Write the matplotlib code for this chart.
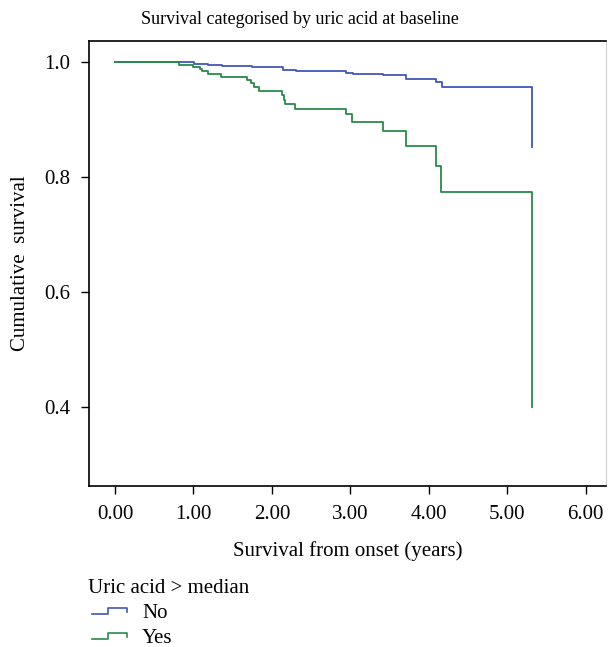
import matplotlib
matplotlib.use('Agg')
import matplotlib.pyplot as plt
from matplotlib.lines import Line2D

plt.rcParams['font.family'] = ['Liberation Serif', 'DejaVu Serif']

# Kaplan-Meier step data (time in years, survival)
no_time = [0.00, 1.01, 1.18, 1.36, 1.75, 2.14, 2.31, 2.95, 3.03, 3.42, 3.71, 4.09, 4.17, 5.32, 5.32]
no_surv = [1.000, 0.997, 0.995, 0.993, 0.991, 0.986, 0.984, 0.981, 0.980, 0.977, 0.971, 0.965, 0.956, 0.956, 0.853]

yes_time = [0.00, 0.82, 1.00, 1.08, 1.11, 1.18, 1.35, 1.68, 1.74, 1.77, 1.84, 2.13, 2.15, 2.17, 2.29,
            2.95, 3.02, 3.42, 3.71, 4.09, 4.16, 5.32, 5.32]
yes_surv = [1.000, 0.996, 0.992, 0.988, 0.984, 0.980, 0.975, 0.969, 0.964, 0.957, 0.950, 0.943, 0.935, 0.928, 0.919,
            0.909, 0.895, 0.881, 0.854, 0.819, 0.774, 0.774, 0.400]

x_ticks = [0, 1, 2, 3, 4, 5, 6]
y_ticks = [0.4, 0.6, 0.8, 1.0]

col_no = '#4356b8'
col_yes = '#2a8a4a'

fig = plt.figure(figsize=(6.10, 6.47), dpi=100)
ax = fig.add_axes([0.1467, 0.2493, 0.8463, 0.6873])

ax.step(no_time, no_surv, where='post', color=col_no, lw=1.3)
ax.step(yes_time, yes_surv, where='post', color=col_yes, lw=1.3)

ax.set_xlim(-0.325, 6.255)
ax.set_ylim(0.262, 1.037)
ax.set_xticks(x_ticks)
ax.set_xticklabels(['%.2f' % v for v in x_ticks], fontsize=15)
ax.set_yticks(y_ticks)
ax.set_yticklabels(['%.1f' % v for v in y_ticks], fontsize=15)
ax.tick_params(direction='out', length=6, width=1, pad=8)

for s in ['left', 'bottom', 'top']:
    ax.spines[s].set_linewidth(1.2)
ax.spines['right'].set_color('#d0d0d0')

ax.set_xlabel('Survival from onset (years)', fontsize=15, labelpad=12)
ax.set_ylabel('Cumulative  survival', fontsize=15, labelpad=10)

fig.text(300 / 610, 1 - 20 / 647, 'Survival categorised by uric acid at baseline',
         ha='center', va='center', fontsize=13)

# legend drawn below the plot, SPSS style
W, H = 610.0, 647.0
fig.text(88 / W, 1 - 593 / H, 'Uric acid > median', fontsize=15, ha='left', va='baseline')
for dy, lab, c in [(0, 'No', col_no), (25, 'Yes', col_yes)]:
    xs = [92, 108, 108, 127, 127]
    ys = [614, 614, 608, 608, 612]
    fig.add_artist(Line2D([v / W for v in xs], [1 - (v + dy) / H for v in ys],
                          color=c, lw=1.2, transform=fig.transFigure))
    fig.text(142 / W, 1 - (618 + dy) / H, lab, fontsize=15, ha='left', va='baseline')

plt.savefig('out.png', dpi=100)
